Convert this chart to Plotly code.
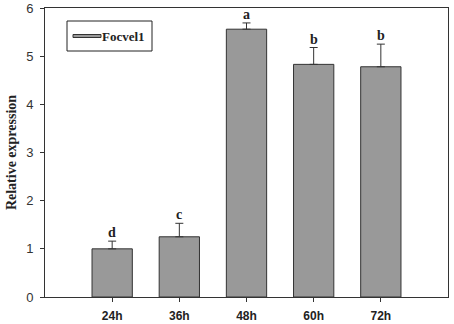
import plotly.graph_objects as go

categories = ["24h", "36h", "48h", "60h", "72h"]
values = [1.00, 1.25, 5.56, 4.83, 4.78]
errors = [0.16, 0.28, 0.13, 0.35, 0.47]
letters = ["d", "c", "a", "b", "b"]
series_name = "Focvel1"
y_ticks = [0, 1, 2, 3, 4, 5, 6]

positions = list(range(len(categories)))

fig = go.Figure()
fig.add_trace(go.Bar(
    x=positions, y=values, width=0.6, name=series_name,
    marker=dict(color="#999999", line=dict(color="#333333", width=1)),
    error_y=dict(type="data", array=errors, arrayminus=[0] * len(errors),
                 symmetric=False, color="#333333", thickness=1, width=4),
    showlegend=False,
))

for x, v, e, t in zip(positions, values, errors, letters):
    fig.add_annotation(x=x, y=v + e, text="<b>" + t + "</b>", showarrow=False,
                       yanchor="bottom", yshift=-1,
                       font=dict(family="Liberation Serif", size=14, color="#222222"))

# legend box drawn manually
fig.add_shape(type="rect", xref="paper", yref="paper",
              x0=(67 - 45) / 403, x1=(152 - 45) / 403,
              y0=(297 - 51) / 289, y1=(297 - 21) / 289,
              line=dict(color="#222222", width=1), fillcolor="white")
fig.add_shape(type="rect", xref="paper", yref="paper",
              x0=(73 - 45) / 403, x1=(101 - 45) / 403,
              y0=(297 - 37.5) / 289, y1=(297 - 34.5) / 289,
              line=dict(color="#333333", width=1), fillcolor="#999999")
fig.add_annotation(xref="paper", yref="paper", x=(100 - 45) / 403, y=(297 - 36) / 289,
                   text="<b>" + series_name + "</b>", showarrow=False,
                   xanchor="left", yanchor="middle",
                   font=dict(family="Liberation Serif", size=13, color="#222222"))

fig.update_layout(
    width=454, height=324,
    margin=dict(l=45, r=6, t=8, b=27),
    paper_bgcolor="white", plot_bgcolor="white",
    xaxis=dict(range=[-1, 5], tickvals=positions, ticktext=["<b>" + c + "</b>" for c in categories],
               ticks="outside", ticklen=4, tickcolor="#333333", ticklabelstandoff=4,
               automargin=False,
               showline=True, linecolor="#333333", linewidth=1, mirror=True,
               showgrid=False, zeroline=False,
               tickfont=dict(family="Liberation Sans", size=12, color="#222222")),
    yaxis=dict(range=[0, 6], tickvals=y_ticks, ticks="outside", ticklen=4, tickcolor="#333333",
               ticklabelstandoff=4, automargin=False,
               showline=True, linecolor="#333333", linewidth=1, mirror=True,
               showgrid=False, zeroline=False,
               tickfont=dict(family="Liberation Sans", size=13, color="#333333"),
               title=dict(text="<b>Relative expression</b>", standoff=6,
                          font=dict(family="Liberation Serif", size=14, color="#222222"))),
)

fig.write_html("out.html", config={"displayModeBar": False},
               post_script="document.body.style.margin='0px';")
